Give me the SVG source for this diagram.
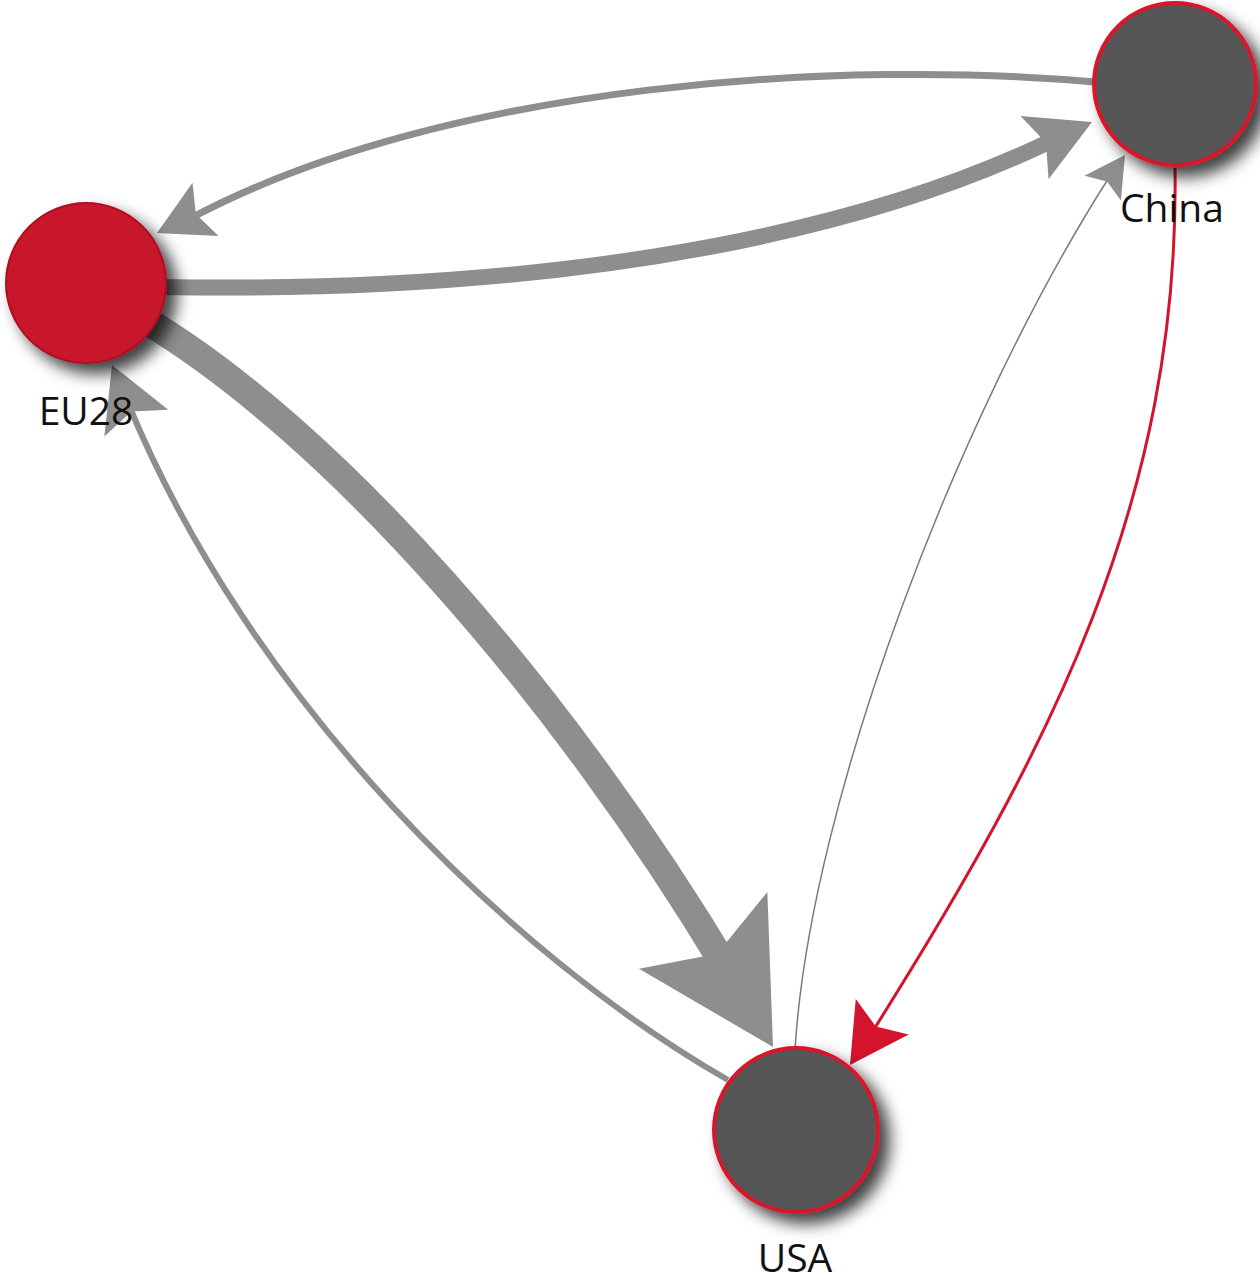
<svg xmlns="http://www.w3.org/2000/svg" xmlns:xlink="http://www.w3.org/1999/xlink" width="1260" height="1282" viewBox="0 0 1260 1282">
  <defs>
    <!-- concave arrowhead, tip at origin pointing along +x, unit length -->
    <path id="ah" d="M0,0 L-1,-0.55 L-0.8,0 L-1,0.55 Z"/>
    <filter id="shadow" x="-40%" y="-40%" width="190%" height="190%">
      <feDropShadow dx="10" dy="10" stdDeviation="8" flood-color="#000" flood-opacity="0.75"/>
    </filter>
    <style>
      .edge { fill: none; stroke: #8e8e8e; stroke-linecap: butt; }
      .edge.thin { stroke: #7a7a7a; }
      .edge.red { stroke: #d3142c; }
      .head { fill: #8e8e8e; }
      .head.red { fill: #d3142c; }
      .node-red { fill: #c8142a; stroke: #b00f22; stroke-width: 2; }
      .node-grey { fill: #555557; stroke: #d8182c; stroke-width: 4; }
      .label { font-family: "Open Sans", "Noto Sans", "Liberation Sans", sans-serif; font-size: 39px; fill: #111; text-anchor: middle; }
    </style>
  </defs>

  <rect width="1260" height="1282" fill="#ffffff"/>

  <g id="connectors">
    <!-- China -> EU28 (upper arc) -->
    <path class="edge" stroke-width="7" d="M1095,82 C850,60 450,80 189,219"/>
    <use href="#ah" class="head" transform="translate(157,233) rotate(154) scale(54)"/>

    <!-- EU28 -> China -->
    <path class="edge" stroke-width="16" d="M160,287 C600,295 885,222 1055,139"/>
    <use href="#ah" class="head" transform="translate(1092,122) rotate(-24) scale(63)"/>

    <!-- EU28 -> USA (heaviest flow) -->
    <path class="edge" stroke-width="28" d="M145,320 C330,430 560,690 728,971"/>
    <use href="#ah" class="head" transform="translate(773,1047) rotate(59.1) scale(136)"/>

    <!-- USA -> EU28 -->
    <path class="edge" stroke-width="6" d="M728,1080 C510,955 250,700 128,403"/>
    <use href="#ah" class="head" transform="translate(112,365) rotate(-112.7) scale(63)"/>

    <!-- USA -> China (thin) -->
    <path class="edge thin" stroke-width="1.5" d="M795,1050 C810,800 960,410 1110,176"/>
    <use href="#ah" class="head" transform="translate(1125,155) rotate(-56) scale(40)"/>

    <!-- China -> USA (red) -->
    <path class="edge red" stroke-width="3" d="M1175,168 C1180,500 1050,750 871,1034"/>
    <use href="#ah" class="head red" transform="translate(850,1065) rotate(123.8) scale(58)"/>
  </g>

  <g id="node-eu28">
    <circle class="node-red" cx="86" cy="283" r="80" filter="url(#shadow)"/>
    <text class="label" x="86" y="425">EU28</text>
  </g>

  <g id="node-china">
    <circle class="node-grey" cx="1175" cy="84" r="81" filter="url(#shadow)"/>
    <text class="label" x="1172" y="222">China</text>
  </g>

  <g id="node-usa">
    <circle class="node-grey" cx="796" cy="1130" r="82" filter="url(#shadow)"/>
    <text class="label" x="795" y="1272">USA</text>
  </g>
</svg>
